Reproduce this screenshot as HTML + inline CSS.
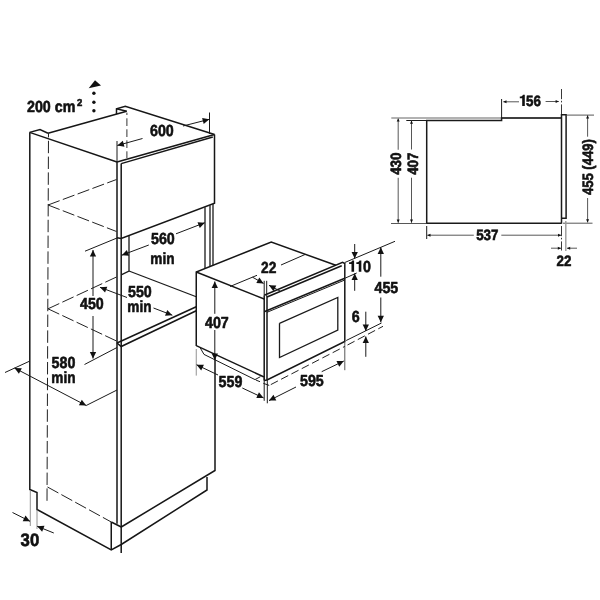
<!DOCTYPE html>
<html><head><meta charset="utf-8"><title>Built-in oven dimensions</title>
<style>
html,body{margin:0;padding:0;background:#fff;}
body{width:600px;height:600px;overflow:hidden;}
svg{display:block;filter:grayscale(1);}
svg path{fill:none;stroke-linecap:butt;stroke-linejoin:miter;}
.k{stroke:#161616;stroke-width:1.5;}
.m{stroke:#1a1a1a;stroke-width:1.3;}
.t{stroke:#1a1a1a;stroke-width:1.0;}
.g{stroke:#777;stroke-width:0.8;}
.g2{stroke:#999;stroke-width:1.5;}
.g3{stroke:#999;stroke-width:1.4;}
.s{stroke:#444;stroke-width:0.9;}
.s2{stroke:#666;stroke-width:1.1;}
.k2{stroke:#1a1a1a;stroke-width:1.5;}
.d{stroke:#222;stroke-width:1.0;stroke-dasharray:12.4 3.4;}
.d2{stroke:#222;stroke-width:1.0;stroke-dasharray:8 3.6;}
.d3{stroke:#333;stroke-width:1.0;stroke-dasharray:7.7 3.3;stroke-dashoffset:5.4;}
.dd{stroke:#222;stroke-width:0.9;stroke-dasharray:10.2 1.6 1.6 2;}
svg path.a{fill:#111;stroke:none;}
text{font-family:"Liberation Sans",sans-serif;font-weight:bold;fill:#111;stroke:#111;stroke-width:0.6;stroke-linejoin:round;text-rendering:geometricPrecision;}
</style></head><body>
<svg width="600" height="600" viewBox="0 0 600 600">
<rect width="600" height="600" fill="#fff"/>
<path class="k" d="M29.60 132.40 L40.00 129.60 L48.00 133.20" />
<path class="k" d="M29.60 132.40 L117.00 162.00" />
<path class="k" d="M48.00 133.20 L126.70 111.30" />
<path class="k" d="M116.50 114.00 L116.50 108.70 L125.30 106.30 L214.50 134.50" />
<path class="k" d="M116.50 108.70 L126.70 111.30" />
<path class="k" d="M117.00 162.00 L214.50 134.50" />
<path class="k" d="M121.20 163.60 L212.80 137.00" />
<path class="k" d="M29.80 132.40 L29.80 489.50 L37.00 492.50 L37.00 509.50 L111.25 550.00 L121.25 544.50 L207.00 490.00 L207.00 477.00" />
<path class="k" d="M111.25 522.00 L111.25 550.00" />
<path class="k" d="M111.25 522.00 L121.25 527.00" />
<path class="k" d="M117.00 162.00 L117.00 523.80" />
<path class="k" d="M121.20 163.60 L121.20 553.00" />
<path class="k" d="M214.50 134.50 L214.50 203.20 L121.20 238.50 L117.00 237.80" />
<path class="m" d="M129.00 236.00 L129.00 271.00 L121.20 274.80" />
<path class="m" d="M129.00 271.00 L196.25 296.75" />
<path class="m" d="M205.00 207.30 L205.00 268.40" />
<path class="m" d="M210.00 205.30 L210.00 266.40" />
<path class="m" d="M213.00 204.00 L213.00 265.20" />
<path class="k" d="M117.00 343.00 L196.25 306.80" />
<path class="k" d="M117.00 343.00 L121.20 346.50 L196.25 310.70" />
<path class="k" d="M215.00 358.00 L215.00 470.50 L121.25 527.00" />
<path class="d" d="M48.50 133.30 L47.00 503.70" stroke-dashoffset="8.3"/>
<path class="d3" d="M126.90 112.70 L126.90 158.00" />
<path class="d" d="M48.00 205.00 L116.50 179.50" />
<path class="d" d="M48.00 205.00 L116.50 231.50" />
<path class="d" d="M48.00 308.80 L116.50 277.00" />
<path class="d" d="M48.00 308.80 L116.50 341.00" />
<path class="d" d="M47.50 487.00 L111.25 522.00" />
<path class="g" d="M30.30 490.00 L30.30 526.00" />
<path class="g" d="M37.00 509.50 L37.00 529.00" />
<text transform="translate(27.00 112.30) scale(0.89 1)" font-size="16" text-anchor="start">200 cm</text>
<text transform="translate(77.00 106.00) scale(0.95 1)" font-size="10" text-anchor="start">2</text>
<path class="a" d="M95 80.2 L101 85.5 L88.7 88.2Z"/>
<circle cx="93.9" cy="93.3" r="1.7" fill="#111"/>
<circle cx="93.9" cy="102.2" r="1.7" fill="#111"/>
<circle cx="93.9" cy="110.7" r="1.7" fill="#111"/>
<path class="t" d="M117.00 141.00 L117.00 162.00" />
<path class="t" d="M209.50 112.50 L209.50 134.00" />
<path class="t" d="M142.50 138.50 L117.30 145.50" />
<path class="a" d="M117.30 145.50 L122.82 140.70 L124.50 146.77Z"/>
<path class="t" d="M183.00 126.00 L209.30 119.30" />
<path class="a" d="M209.30 119.30 L203.68 123.98 L202.13 117.88Z"/>
<text transform="translate(150.00 136.00) scale(0.89 1)" font-size="16" text-anchor="start">600</text>
<path class="t" d="M148.80 245.00 L121.80 255.20" />
<path class="a" d="M121.80 255.20 L126.86 249.92 L129.09 255.81Z"/>
<path class="t" d="M176.00 233.80 L204.80 222.70" />
<path class="a" d="M204.80 222.70 L199.77 228.01 L197.51 222.13Z"/>
<text transform="translate(151.00 243.80) scale(0.89 1)" font-size="16" text-anchor="start">560</text>
<text transform="translate(150.30 263.80) scale(0.85 1)" font-size="16" text-anchor="start">min</text>
<path class="t" d="M127.00 297.50 L100.00 287.30" />
<path class="a" d="M100.00 287.30 L107.29 286.69 L105.06 292.58Z"/>
<path class="t" d="M153.50 308.00 L172.30 315.20" />
<path class="a" d="M172.30 315.20 L165.01 315.78 L167.26 309.90Z"/>
<text transform="translate(128.00 297.30) scale(0.89 1)" font-size="16" text-anchor="start">550</text>
<text transform="translate(127.30 311.80) scale(0.85 1)" font-size="16" text-anchor="start">min</text>
<path class="t" d="M85.00 251.20 L117.00 238.00" />
<path class="t" d="M84.50 364.50 L117.00 347.50" />
<path class="t" d="M93.00 296.00 L93.00 250.00" />
<path class="a" d="M93.00 250.00 L96.15 256.60 L89.85 256.60Z"/>
<path class="t" d="M93.00 316.00 L93.00 358.50" />
<path class="a" d="M93.00 358.50 L89.85 351.90 L96.15 351.90Z"/>
<text transform="translate(80.00 309.00) scale(0.89 1)" font-size="16" text-anchor="start">450</text>
<path class="t" d="M5.00 372.50 L29.50 361.20" />
<path class="t" d="M86.20 405.50 L117.00 390.00" />
<path class="t" d="M14.50 368.00 L86.20 405.50" />
<path class="a" d="M14.50 368.00 L21.81 368.27 L18.89 373.85Z"/>
<path class="a" d="M86.20 405.50 L78.89 405.23 L81.81 399.65Z"/>
<text transform="translate(51.60 368.20) scale(0.89 1)" font-size="16" text-anchor="start">580</text>
<text transform="translate(51.30 382.80) scale(0.85 1)" font-size="16" text-anchor="start">min</text>
<path class="t" d="M12.50 512.50 L30.00 521.30" />
<path class="a" d="M30.00 521.30 L22.69 521.15 L25.52 515.52Z"/>
<path class="t" d="M53.80 533.00 L37.20 526.30" />
<path class="a" d="M37.20 526.30 L44.50 525.85 L42.14 531.69Z"/>
<text transform="translate(20.60 545.70) scale(0.93 1)" font-size="18" text-anchor="start">30</text>
<path class="k" d="M196.25 346.00 L196.25 272.00 L271.25 242.00 L335.80 265.30" />
<path class="k" d="M196.25 272.00 L264.20 299.00" />
<path class="k" d="M264.20 295.30 L264.20 380.50" />
<path class="k" d="M267.00 297.00 L267.00 380.00" />
<path class="k" d="M264.20 295.30 L342.60 262.40 L344.80 263.50 L344.80 341.50 L267.00 380.00 L264.20 380.50" />
<path class="k" d="M267.00 297.00 L341.70 265.80" />
<path class="k" d="M264.20 311.70 L344.80 278.30" />
<path class="t" d="M267.00 312.30 L344.80 280.00" />
<path class="m" d="M279.50 323.30 L337.80 297.50 L337.80 330.00 L279.50 357.50 L279.50 323.30" stroke-linejoin="miter"/>
<path class="k" d="M196.25 345.60 L264.00 377.00" />
<path class="t" d="M200.00 347.50 L204.00 354.40 L255.00 379.60 L260.40 376.70" />
<path class="t" d="M230.00 286.50 L257.00 275.30" />
<path class="t" d="M281.00 265.00 L305.00 254.50" />
<path class="d2" d="M270.80 384.60 L345.00 346.30" />
<path class="t" d="M255.80 380.00 L260.00 381.70" />
<path class="t" d="M263.30 383.30 L269.20 385.40" />
<path class="d2" d="M347.50 345.00 L383.00 326.30" />
<path class="t" d="M346.20 340.50 L381.50 323.00" />
<path class="g" d="M196.25 349.00 L196.25 375.60" />
<path class="t" d="M264.20 378.00 L264.20 400.80" />
<path class="t" d="M267.30 380.00 L267.30 403.30" />
<path class="s" d="M344.80 341.70 L344.80 370.20" />
<path class="t" d="M264.20 280.80 L264.20 295.00" />
<path class="t" d="M266.70 280.80 L266.70 297.00" />
<path class="t" d="M214.80 313.80 L214.80 281.50" />
<path class="a" d="M214.80 281.50 L217.95 288.10 L211.65 288.10Z"/>
<path class="t" d="M214.80 330.00 L214.80 360.00" />
<path class="a" d="M214.80 360.00 L211.65 353.40 L217.95 353.40Z"/>
<text transform="translate(205.00 327.50) scale(0.89 1)" font-size="16" text-anchor="start">407</text>
<path class="t" d="M218.00 375.00 L196.60 364.80" />
<path class="a" d="M196.60 364.80 L203.91 364.80 L201.20 370.48Z"/>
<path class="t" d="M242.30 388.00 L263.60 398.00" />
<path class="a" d="M263.60 398.00 L256.29 398.05 L258.96 392.34Z"/>
<text transform="translate(218.60 387.00) scale(0.89 1)" font-size="16" text-anchor="start">559</text>
<path class="t" d="M296.00 387.00 L269.00 400.60" />
<path class="a" d="M269.00 400.60 L273.48 394.82 L276.31 400.44Z"/>
<path class="t" d="M321.70 371.70 L343.80 361.00" />
<path class="a" d="M343.80 361.00 L339.23 366.71 L336.49 361.04Z"/>
<text transform="translate(300.00 385.80) scale(0.89 1)" font-size="16" text-anchor="start">595</text>
<path class="t" d="M252.50 277.20 L263.60 283.40" />
<path class="a" d="M263.60 283.40 L256.30 282.93 L259.37 277.43Z"/>
<path class="t" d="M280.00 291.00 L269.00 285.30" />
<path class="a" d="M269.00 285.30 L276.31 285.54 L273.41 291.13Z"/>
<text transform="translate(261.00 273.40) scale(0.86 1)" font-size="16" text-anchor="start">22</text>
<path class="t" d="M344.80 262.50 L395.00 241.30" />
<path class="t" d="M344.80 278.30 L356.70 273.00" />
<path class="t" d="M354.70 244.00 L354.70 258.50" />
<path class="a" d="M354.70 258.50 L351.55 251.90 L357.85 251.90Z"/>
<path class="t" d="M354.70 290.80 L354.70 273.50" />
<path class="a" d="M354.70 273.50 L357.85 280.10 L351.55 280.10Z"/>
<path class="a" transform="translate(348.80 271.80)" d="M2.7 0 V-7.9 H0.3 V-9.5 C1.8 -9.5 3.1 -10.2 3.5 -11.4 H5.3 V0 Z"/>
<path class="a" transform="translate(356.05 271.80)" d="M2.7 0 V-7.9 H0.3 V-9.5 C1.8 -9.5 3.1 -10.2 3.5 -11.4 H5.3 V0 Z"/>
<text transform="translate(363.10 271.80) scale(0.89 1)" font-size="16" text-anchor="start">0</text>
<path class="t" d="M380.80 276.70 L380.80 247.30" />
<path class="a" d="M380.80 247.30 L383.95 253.90 L377.65 253.90Z"/>
<path class="t" d="M380.80 297.50 L380.80 322.30" />
<path class="a" d="M380.80 322.30 L377.65 315.70 L383.95 315.70Z"/>
<text transform="translate(374.50 293.30) scale(0.89 1)" font-size="16" text-anchor="start">455</text>
<path class="t" d="M365.80 311.70 L365.80 331.00" />
<path class="a" d="M365.80 331.00 L362.65 324.40 L368.95 324.40Z"/>
<path class="t" d="M365.80 356.80 L365.80 336.50" />
<path class="a" d="M365.80 336.50 L368.95 343.10 L362.65 343.10Z"/>
<text transform="translate(351.70 321.80) scale(0.89 1)" font-size="16" text-anchor="start">6</text>
<path class="g2" d="M391.30 117.90 L561.50 117.90" />
<path class="t" d="M406.30 120.50 L426.70 120.50" />
<path class="k2" d="M426.70 223.20 L426.70 120.50 L501.60 120.50 L501.60 118.00 L561.50 118.00" />
<path class="k2" d="M426.00 223.20 L561.50 223.20" />
<path class="s" d="M391.00 223.50 L426.60 223.50" />
<path class="t" d="M501.60 99.00 L501.60 118.00" />
<path class="k2" d="M561.50 223.80 L561.50 114.80 L566.10 114.80 L566.10 218.20 L561.50 218.20" />
<path class="s" d="M566.30 115.10 L594.00 115.10" />
<path class="s" d="M563.00 223.20 L592.50 223.20" />
<path class="dd" d="M561.50 89.00 L561.50 114.00" />
<path class="dd" d="M561.50 226.00 L561.50 250.50" />
<path class="g3" d="M565.80 221.00 L565.80 251.00" />
<path class="t" d="M426.70 226.00 L426.70 239.00" />
<path class="s2" d="M398.20 149.70 L398.20 118.40" />
<path class="a" d="M398.20 118.40 L399.70 121.60 L396.70 121.60Z"/>
<path class="s2" d="M398.20 177.70 L398.20 222.80" />
<path class="a" d="M398.20 222.80 L396.70 219.60 L399.70 219.60Z"/>
<path class="s" d="M411.50 149.50 L411.50 120.50" />
<path class="a" d="M411.50 120.50 L413.00 123.70 L410.00 123.70Z"/>
<path class="s" d="M411.50 177.70 L411.50 222.80" />
<path class="a" d="M411.50 222.80 L410.00 219.60 L413.00 219.60Z"/>
<text transform="translate(401.30 174.80) rotate(-90) scale(0.89 1)" font-size="15" text-anchor="start">430</text>
<text transform="translate(417.70 174.80) rotate(-90) scale(0.89 1)" font-size="15" text-anchor="start">407</text>
<path class="s" d="M473.80 235.20 L427.30 235.20" />
<path class="a" d="M427.30 235.20 L430.50 233.70 L430.50 236.70Z"/>
<path class="s" d="M501.30 235.20 L561.20 235.20" />
<path class="a" d="M561.20 235.20 L558.00 236.70 L558.00 233.70Z"/>
<text transform="translate(476.20 240.00) scale(0.89 1)" font-size="15" text-anchor="start">537</text>
<path class="s" d="M519.00 101.80 L503.30 101.80" />
<path class="a" d="M503.30 101.80 L506.50 100.30 L506.50 103.30Z"/>
<path class="s" d="M545.60 101.50 L558.80 101.50" />
<path class="a" d="M558.80 101.50 L555.60 103.00 L555.60 100.00Z"/>
<path class="a" transform="translate(519.50 106.10)" d="M2.7 0 V-7.9 H0.3 V-9.5 C1.8 -9.5 3.1 -10.2 3.5 -11.4 H5.3 V0 Z"/>
<text transform="translate(526.00 106.10) scale(0.89 1)" font-size="15" text-anchor="start">56</text>
<path class="s" d="M551.00 248.20 L561.00 248.20" />
<path class="a" d="M561.00 248.20 L557.80 249.70 L557.80 246.70Z"/>
<path class="s" d="M577.00 248.20 L567.00 248.20" />
<path class="a" d="M567.00 248.20 L570.20 246.70 L570.20 249.70Z"/>
<text transform="translate(556.60 266.20) scale(0.89 1)" font-size="15" text-anchor="start">22</text>
<path class="s" d="M587.60 136.70 L587.60 115.30" />
<path class="a" d="M587.60 115.30 L589.10 118.50 L586.10 118.50Z"/>
<path class="s" d="M587.60 198.00 L587.60 222.40" />
<path class="a" d="M587.60 222.40 L586.10 219.20 L589.10 219.20Z"/>
<text transform="translate(592.70 195.10) rotate(-90) scale(0.87 1)" font-size="15" text-anchor="start">455 (449)</text>
</svg>
</body></html>
